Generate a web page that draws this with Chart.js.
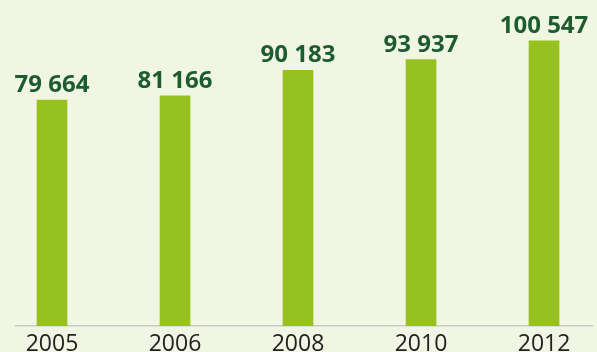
<!DOCTYPE html>
<html>
<head>
<meta charset="utf-8">
<script src="https://cdn.jsdelivr.net/npm/chart.js@4.4.0/dist/chart.umd.min.js"></script>
<style>
html,body{margin:0;padding:0;background:#f1f5e4;}
#wrap{width:597px;height:352px;position:relative;}
</style>
</head>
<body>
<div id="wrap"><canvas id="c" width="597" height="352"></canvas></div>
<script>
const categories = ["2005", "2006", "2008", "2010", "2012"];
const values = [79664, 81166, 90183, 93937, 100547];
const valueLabels = ["79 664", "81 166", "90 183", "93 937", "100 547"];

const points = values.map((v, i) => ({x: i, y: v}));

const labelPlugin = {
  id: 'valueLabels',
  afterDatasetsDraw(chart) {
    const ctx = chart.ctx;
    const meta = chart.getDatasetMeta(0);
    ctx.save();
    ctx.font = 'bold 24px "Open Sans"';
    ctx.fillStyle = '#1d5c2e';
    ctx.textAlign = 'center';
    ctx.textBaseline = 'alphabetic';
    meta.data.forEach((bar, i) => {
      ctx.fillText(valueLabels[i], bar.x, bar.y - 8);
    });
    ctx.restore();
  }
};

new Chart(document.getElementById('c'), {
  type: 'bar',
  data: {
    datasets: [{
      data: points,
      backgroundColor: '#97c11f',
      barThickness: 30,
      borderWidth: 0
    }]
  },
  options: {
    responsive: false,
    animation: false,
    events: [],
    layout: {padding: {left: 16, right: 5, top: 14, bottom: 0}},
    plugins: {legend: {display: false}, tooltip: {enabled: false}},
    scales: {
      x: {
        type: 'linear',
        offset: false,
        min: -0.2927,
        max: 4.39,
        afterBuildTicks: (scale) => { scale.ticks = categories.map((c, i) => ({value: i})); },
        afterFit: (scale) => { scale.height = 26; },
        grid: {display: false},
        border: {display: true, color: '#c9cbc4', width: 1.5},
        ticks: {
          autoSkip: false,
          maxRotation: 0,
          padding: -3,
          color: '#222222',
          font: {family: '"Open Sans"', size: 23},
          callback: (v) => categories[v] ?? ''
        }
      },
      y: {
        display: false,
        min: 0,
        max: 110000
      }
    }
  },
  plugins: [labelPlugin]
});
</script>
</body>
</html>
